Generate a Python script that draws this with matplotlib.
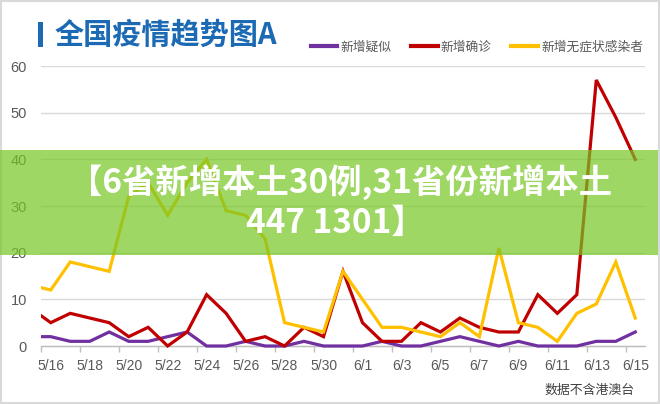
import matplotlib
matplotlib.use("Agg")
import numpy as np
import matplotlib.pyplot as plt
from matplotlib.patches import Rectangle

plt.rcParams['font.family'] = ['Liberation Sans', 'Noto Sans CJK SC', 'DejaVu Sans']
CJK = ['Noto Sans CJK SC', 'DejaVu Sans']

# daily values, 5/15 - 6/15 (5/15 is only partly visible at the left edge)
dates = ['5/15', '5/16', '5/17', '5/18', '5/19', '5/20', '5/21', '5/22',
         '5/23', '5/24', '5/25', '5/26', '5/27', '5/28', '5/29', '5/30',
         '5/31', '6/1', '6/2', '6/3', '6/4', '6/5', '6/6', '6/7',
         '6/8', '6/9', '6/10', '6/11', '6/12', '6/13', '6/14', '6/15']
suspected = [2, 2, 1, 1, 3, 1, 1, 2, 3, 0, 0, 1, 0, 0, 1, 0,
             0, 0, 1, 0, 0, 1, 2, 1, 0, 1, 0, 0, 0, 1, 1, 3]
confirmed = [8, 5, 7, 6, 5, 2, 4, 0, 3, 11, 7, 1, 2, 0, 4, 2,
             16, 5, 1, 1, 5, 3, 6, 4, 3, 3, 11, 7, 11, 57, 49, 40]
asymptomatic = [13, 12, 18, 17, 16, 32, 35, 28, 35, 40, 29, 28, 23, 5, 4, 3,
                16, 10, 4, 4, 3, 2, 5, 2, 21, 5, 4, 1, 7, 9, 18, 6]

series_names = ['新增疑似', '新增确诊', '新增无症状感染者']
series_colors = ['#7030A0', '#C00000', '#FFC000']
yticks = [0, 10, 20, 30, 40, 50, 60]

title = '全国疫情趋势图A'
banner_1 = '【6省新增本土30例,31省份新增本土'
banner_2 = '447 1301】'
note = '数据不含港澳台'

W, H = 660, 404
fig = plt.figure(figsize=(W / 100, H / 100), dpi=100)
fig.patch.set_facecolor('white')

# axes: x from px 41 to 645, y=0 at px 346, y=60 at px 66
ymin = -1.0
px_per_unit = 280 / 60
bottom_px = 346 + (0 - ymin) * px_per_unit
ax = fig.add_axes([41 / W, (H - bottom_px) / H, 604 / W, (bottom_px - 66) / H])
ax.set_xlim(0.5, len(dates) - 0.5)
ax.set_ylim(ymin, 60)

x = np.arange(len(dates))
for vals, name, col in zip([suspected, confirmed, asymptomatic], series_names, series_colors):
    ax.plot(x, vals, color=col, lw=2.3, label=name, solid_joinstyle='miter', zorder=3)

for s in ['top', 'right', 'left']:
    ax.spines[s].set_visible(False)
ax.spines['bottom'].set_position(('data', 0))
ax.spines['bottom'].set_color('#BFBFBF')
ax.spines['bottom'].set_linewidth(1.0)

ax.set_yticks(yticks[1:])
ax.yaxis.grid(True, color='#D9D9D9', lw=1.0)
ax.set_axisbelow(True)
ax.set_yticks(yticks)
ax.tick_params(axis='y', length=0, pad=10, labelsize=10.5, labelcolor='#595959')

ax.set_xticks(x[1::2])
ax.set_xticklabels(dates[1::2])
ax.set_xticks(np.arange(0.5, len(dates), 2), minor=True)
ax.tick_params(axis='x', which='major', length=0, pad=9, labelsize=10, labelcolor='#595959')
ax.tick_params(axis='x', which='minor', length=4, width=1, color='#BFBFBF')

# title with blue bar
fig.add_artist(Rectangle((38 / W, (H - 47) / H), 5 / W, 25 / H,
                         transform=fig.transFigure, color='#1B6AB3', lw=0))
fig.text(55 / W, 1 - 35 / H, title, family=CJK, fontsize=21, fontweight='bold',
         color='#1B6AB3', ha='left', va='center')

leg = ax.legend(loc='center right', bbox_to_anchor=(643 / W, 1 - 47 / H),
                bbox_transform=fig.transFigure, ncol=3, frameon=False,
                prop={'family': CJK, 'size': 9.2}, handlelength=2.1,
                handletextpad=0.25, columnspacing=1.5, borderpad=0, borderaxespad=0)
for t in leg.get_texts():
    t.set_color('#595959')
for h in leg.get_lines():
    h.set_linewidth(3)

# green banner over the chart
fig.add_artist(Rectangle((0, (H - 255) / H), 658 / W, 105 / H, transform=fig.transFigure,
                         facecolor='#77C724', alpha=0.7, lw=0, zorder=10))
fig.text(341 / W, 1 - 182 / H, banner_1, family=CJK, fontsize=24, fontweight='bold',
         color='white', ha='center', va='center', zorder=11)
fig.text(335 / W, 1 - 223 / H, banner_2, family=CJK, fontsize=24, fontweight='bold',
         color='white', ha='center', va='center', zorder=11)

fig.text(635 / W, 1 - 390 / H, note, family=CJK, fontsize=9.3, color='#404040',
         ha='right', va='center')

# outer border
fig.add_artist(Rectangle((0.001, 0.002), 0.997, 0.996, transform=fig.transFigure,
                         fill=False, edgecolor='#D9D9D9', lw=1.5))

fig.savefig('out.png', dpi=100)
